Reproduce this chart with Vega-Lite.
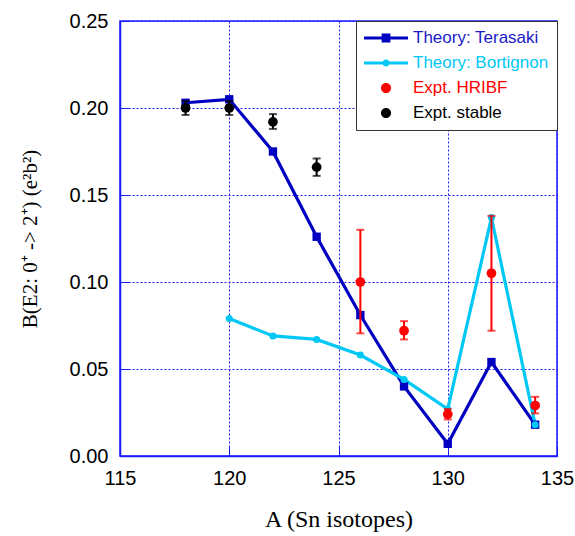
{
  "$schema": "https://vega.github.io/schema/vega-lite/v6.json",
  "width": 437,
  "height": 435,
  "autosize": {"type": "none"},
  "padding": {"left": 120, "top": 21, "right": 18, "bottom": 80},
  "background": "white",
  "config": {
    "view": {"stroke": "#1a1aff", "strokeWidth": 1.5},
    "axis": {
      "domainColor": "#1a1aff",
      "domainWidth": 1.5,
      "tickColor": "#1a1aff",
      "tickSize": -10,
      "tickWidth": 1,
      "gridColor": "#1a1aff",
      "gridDash": [2, 2],
      "gridWidth": 1,
      "labelFont": "Liberation Sans",
      "labelFontSize": 20,
      "labelColor": "black",
      "titleFont": "Liberation Serif",
      "titleFontWeight": "normal",
      "titleColor": "black"
    }
  },
  "datasets": {
    "theory": [
      {"A": 118, "B": 0.203, "series": "Theory: Terasaki"},
      {"A": 120, "B": 0.205, "series": "Theory: Terasaki"},
      {"A": 122, "B": 0.175, "series": "Theory: Terasaki"},
      {"A": 124, "B": 0.126, "series": "Theory: Terasaki"},
      {"A": 126, "B": 0.081, "series": "Theory: Terasaki"},
      {"A": 128, "B": 0.040, "series": "Theory: Terasaki"},
      {"A": 130, "B": 0.007, "series": "Theory: Terasaki"},
      {"A": 132, "B": 0.054, "series": "Theory: Terasaki"},
      {"A": 134, "B": 0.018, "series": "Theory: Terasaki"},
      {"A": 120, "B": 0.079, "series": "Theory: Bortignon"},
      {"A": 122, "B": 0.069, "series": "Theory: Bortignon"},
      {"A": 124, "B": 0.067, "series": "Theory: Bortignon"},
      {"A": 126, "B": 0.058, "series": "Theory: Bortignon"},
      {"A": 128, "B": 0.044, "series": "Theory: Bortignon"},
      {"A": 130, "B": 0.027, "series": "Theory: Bortignon"},
      {"A": 132, "B": 0.137, "series": "Theory: Bortignon"},
      {"A": 134, "B": 0.018, "series": "Theory: Bortignon"}
    ],
    "expt": [
      {"A": 126, "B": 0.100, "lo": 0.0705, "hi": 0.130, "series": "Expt. HRIBF"},
      {"A": 128, "B": 0.072, "lo": 0.067, "hi": 0.0775, "series": "Expt. HRIBF"},
      {"A": 130, "B": 0.024, "lo": 0.021, "hi": 0.027, "series": "Expt. HRIBF"},
      {"A": 132, "B": 0.105, "lo": 0.072, "hi": 0.138, "series": "Expt. HRIBF"},
      {"A": 134, "B": 0.029, "lo": 0.0245, "hi": 0.034, "series": "Expt. HRIBF"},
      {"A": 118, "B": 0.200, "lo": 0.196, "hi": 0.204, "series": "Expt. stable"},
      {"A": 120, "B": 0.200, "lo": 0.196, "hi": 0.204, "series": "Expt. stable"},
      {"A": 122, "B": 0.192, "lo": 0.188, "hi": 0.1965, "series": "Expt. stable"},
      {"A": 124, "B": 0.166, "lo": 0.161, "hi": 0.171, "series": "Expt. stable"}
    ],
    "legendrows": [
      {"A": 118, "B": 0.203, "series": "Theory: Terasaki"},
      {"A": 120, "B": 0.079, "series": "Theory: Bortignon"},
      {"A": 126, "B": 0.100, "series": "Expt. HRIBF"},
      {"A": 118, "B": 0.200, "series": "Expt. stable"}
    ]
  },
  "encoding": {
    "x": {
      "field": "A", "type": "quantitative",
      "scale": {"domain": [115, 135], "nice": false, "zero": false},
      "axis": {
        "values": [115, 120, 125, 130, 135],
        "title": "A (Sn isotopes)",
        "titleFontSize": 24,
        "titlePadding": 19,
        "labelPadding": 22,
        "labelFlush": false
      }
    },
    "y": {
      "field": "B", "type": "quantitative",
      "scale": {"domain": [0, 0.25], "nice": false},
      "axis": {
        "values": [0, 0.05, 0.1, 0.15, 0.2, 0.25],
        "format": ".2f",
        "title": "B(E2: 0⁺ -> 2⁺)  (e²b²)",
        "titleFontSize": 21,
        "titlePadding": 29,
        "labelPadding": 22
      }
    },
    "color": {
      "field": "series", "type": "nominal",
      "scale": {
        "domain": ["Expt. HRIBF", "Expt. stable", "Theory: Terasaki", "Theory: Bortignon"],
        "range": ["#ff0000", "#000000", "#0000c0", "#00c8f5"]
      },
      "legend": null
    }
  },
  "layer": [
    {
      "data": {"name": "theory"},
      "mark": {"type": "line", "strokeWidth": 3.2},
      "encoding": {"detail": {"field": "series"}}
    },
    {
      "data": {"name": "theory"},
      "transform": [{"filter": "datum.series === 'Theory: Terasaki'"}],
      "mark": {"type": "square", "size": 70, "opacity": 1, "color": "#0000d8"}
    },
    {
      "data": {"name": "theory"},
      "transform": [{"filter": "datum.series === 'Theory: Bortignon'"}],
      "mark": {"type": "circle", "size": 50, "opacity": 1}
    },
    {
      "data": {"name": "expt"},
      "mark": {"type": "rule", "strokeWidth": 2},
      "encoding": {
        "y": {"field": "lo", "type": "quantitative"},
        "y2": {"field": "hi"}
      }
    },
    {
      "data": {"name": "expt"},
      "mark": {"type": "tick", "orient": "horizontal", "size": 8, "thickness": 2},
      "encoding": {"y": {"field": "lo", "type": "quantitative"}}
    },
    {
      "data": {"name": "expt"},
      "mark": {"type": "tick", "orient": "horizontal", "size": 8, "thickness": 2},
      "encoding": {"y": {"field": "hi", "type": "quantitative"}}
    },
    {
      "data": {"name": "expt"},
      "mark": {"type": "circle", "size": 95, "opacity": 1}
    },
    {
      "data": {"name": "legendrows"},
      "mark": {"type": "point", "filled": true, "opacity": 0, "size": 1936},
      "encoding": {
        "shape": {
          "field": "series", "type": "nominal",
          "scale": {
            "domain": ["Theory: Terasaki", "Theory: Bortignon", "Expt. HRIBF", "Expt. stable"],
            "range": [
              "M-1,-0.07H1V0.07H-1Z M-0.2,-0.2H0.2V0.2H-0.2Z",
              "M-1,-0.065H1V0.065H-1Z M0.16,0A0.16,0.16 0 1,1 -0.16,0A0.16,0.16 0 1,1 0.16,0Z",
              "M0.23,0A0.23,0.23 0 1,1 -0.23,0A0.23,0.23 0 1,1 0.23,0Z",
              "M0.23,0A0.23,0.23 0 1,1 -0.23,0A0.23,0.23 0 1,1 0.23,0Z"
            ]
          },
          "legend": {
            "title": null,
            "orient": "top-right",
            "offset": 0,
            "padding": 8,
            "strokeColor": "#333333",
            "fillColor": "white",
            "labelFont": "Liberation Sans",
            "labelFontSize": 17,
            "labelOffset": 5,
            "labelLimit": 300,
            "symbolSize": 1936,
            "symbolStrokeWidth": 0,
            "symbolOpacity": 1,
            "clipHeight": 18,
            "rowPadding": 7,
            "labelColor": {"expr": "datum.label === 'Theory: Terasaki' ? '#1a1ac8' : datum.label === 'Theory: Bortignon' ? '#00c8f5' : datum.label === 'Expt. HRIBF' ? '#ff0000' : '#000000'"},
            "symbolFillColor": {"expr": "datum.label === 'Theory: Terasaki' ? '#0000c0' : datum.label === 'Theory: Bortignon' ? '#00c8f5' : datum.label === 'Expt. HRIBF' ? '#ff0000' : '#000000'"}
          }
        }
      }
    }
  ]
}
